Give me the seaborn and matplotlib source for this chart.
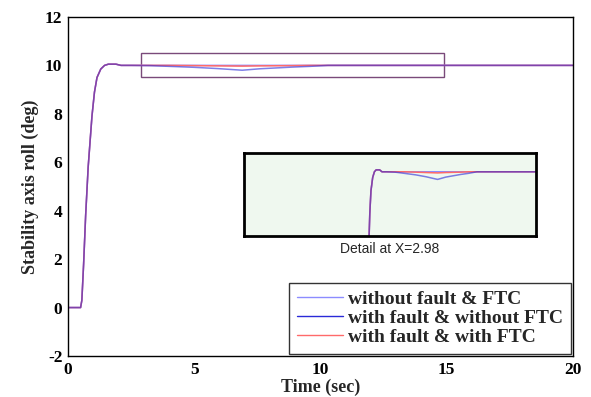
import matplotlib
matplotlib.use("Agg")
import matplotlib.pyplot as plt
import seaborn as sns
import pandas as pd
from matplotlib.patches import Rectangle

# ---- data ----
time_s = [0, 0.5, 0.55, 0.62, 0.7, 0.8, 0.95, 1.05, 1.15, 1.3, 1.45, 1.6, 1.9, 2.1, 2.5,
          3.25, 4.0, 5.0, 5.9, 6.9, 7.6, 8.9, 9.6, 10.3, 12, 15, 20]
no_fault = [0, 0, 0.3, 1.8, 3.8, 5.8, 7.9, 8.9, 9.5, 9.85, 10.0, 10.05, 10.05, 10.0, 10.0,
            10.0, 10.0, 10.0, 10.0, 10.0, 10.0, 10.0, 10.0, 10.0, 10.0, 10.0, 10.0]
fault_no_ftc = [0, 0, 0.3, 1.8, 3.8, 5.8, 7.9, 8.9, 9.5, 9.85, 10.0, 10.05, 10.05, 10.0, 10.0,
                9.99, 9.96, 9.92, 9.87, 9.8, 9.86, 9.93, 9.96, 10.0, 10.0, 10.0, 10.0]
fault_ftc = [0, 0, 0.3, 1.8, 3.8, 5.8, 7.9, 8.9, 9.5, 9.85, 10.0, 10.05, 10.05, 10.0, 10.0,
             10.0, 10.0, 9.99, 9.98, 9.97, 9.98, 9.99, 10.0, 10.0, 10.0, 10.0, 10.0]
labels = ["without fault & FTC", "with fault & without FTC", "with fault & with FTC"]
colors = ["#8c8cff", "#2a2ad8", "#ff6a6a"]
x_ticks = [0, 5, 10, 15, 20]
y_ticks = [-2, 0, 2, 4, 6, 8, 10, 12]

rows = []
for lab, vals in zip(labels, [no_fault, fault_no_ftc, fault_ftc]):
    for t, v in zip(time_s, vals):
        rows.append({"t": t, "v": v, "series": lab})
df = pd.DataFrame(rows)

sns.set_style("white")
plt.rcParams["font.family"] = ["Liberation Serif", "DejaVu Serif"]
plt.rcParams["axes.unicode_minus"] = False

fig = plt.figure(figsize=(5.91, 3.97), dpi=100)
ax = fig.add_axes([0.115, 0.1033, 0.8545, 0.854])

# draw order: light blue, red, then dark blue semi-transparent on top (violet blend)
draw_order = [0, 2, 1]
alphas = {0: 1.0, 1: 0.6, 2: 1.0}
handles = {}
for i in draw_order:
    sub = df[df.series == labels[i]]
    sns.lineplot(data=sub, x="t", y="v", ax=ax, color=colors[i], alpha=alphas[i], lw=1.1,
                 estimator=None, sort=False, legend=False)
    handles[i] = ax.lines[-1]

ax.set_xlim(0, 20)
ax.set_ylim(-2, 12)
ax.set_xticks(x_ticks)
ax.set_yticks(y_ticks)
ax.tick_params(direction="in", length=3, width=0.8, labelsize=12.5, colors="#555555",
               labelcolor="black", pad=4)
for lbl in ax.get_xticklabels() + ax.get_yticklabels():
    lbl.set_fontweight("bold")
for s in ax.spines.values():
    s.set_color("black")
    s.set_linewidth(1.0)
ax.set_xlabel("Time (sec)", fontsize=13, fontweight="bold", labelpad=1)
ax.set_ylabel("Stability axis roll (deg)", fontsize=13, fontweight="bold", labelpad=4)

# zoom rectangle
ax.add_patch(Rectangle((2.9, 9.5), 12.0, 1.02, fill=False, edgecolor="#7a4a7a", lw=1.0))

leg = ax.legend([handles[0], handles[1], handles[2]], labels,
                loc="lower right", bbox_to_anchor=(1.0, 0.0), borderaxespad=0.1,
                prop={"weight": "bold", "size": 14}, frameon=True, fancybox=False,
                handlelength=2.4, handletextpad=0.25, labelspacing=0.08,
                borderpad=0.4)
leg.get_frame().set_edgecolor("black")
leg.get_frame().set_linewidth(1.0)
for h, c in zip(leg.get_lines(), colors):
    h.set_color(c)
    h.set_alpha(1.0)
    h.set_linewidth(1.0)

# inset
axi = fig.add_axes([0.413, 0.4055, 0.494, 0.21])
axi.set_facecolor("#eff8ef")
for i in draw_order:
    sub = df[df.series == labels[i]]
    sns.lineplot(data=sub, x="t", y="v", ax=axi, color=colors[i], alpha=alphas[i], lw=1.1,
                 estimator=None, sort=False, legend=False)
axi.set_xlim(-9.8, 15.4)
axi.set_ylim(8.32, 10.5)
axi.set_xticks([])
axi.set_yticks([])
axi.set_xlabel("")
axi.set_ylabel("")
for s in axi.spines.values():
    s.set_color("black")
    s.set_linewidth(2.0)

fig.text(0.66, 0.374, "Detail at X=2.98", ha="center", va="center",
         fontsize=10, family=["Liberation Sans", "DejaVu Sans"])

fig.savefig("out.png", dpi=100)
